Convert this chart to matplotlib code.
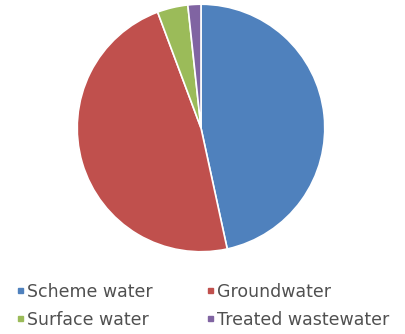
import matplotlib
matplotlib.use("Agg")
import matplotlib.pyplot as plt

categories = ["Scheme water", "Groundwater", "Surface water", "Treated wastewater"]
shares = [46.6, 47.7, 4.0, 1.7]
colors = ["#4F81BD", "#C0504D", "#9BBB59", "#8064A2"]

W, H = 406, 334
fig = plt.figure(figsize=(W / 100, H / 100), dpi=100)

# pie
ax = fig.add_axes([76 / W, (H - 253) / H, 250 / W, 250 / H])
ax.pie(shares, colors=colors, startangle=90, counterclock=False,
       wedgeprops=dict(edgecolor="white", linewidth=1.2))
ax.set_xlim(-1.01, 1.01)
ax.set_ylim(-1.01, 1.01)
ax.set_aspect("equal")

# legend laid out in pixel coordinates, two columns
lg = fig.add_axes([0, 0, 1, 1], facecolor="none")
lg.set_xlim(0, W)
lg.set_ylim(H, 0)
lg.axis("off")
col_x = [20, 210]
row_y = [290, 318]
for i, (name, c) in enumerate(zip(categories, colors)):
    col, row = i % 2, i // 2
    x, y = col_x[col], row_y[row]
    lg.plot([x], [y], marker="s", markersize=3.6, color=c, linestyle="none")
    lg.text(x + 7, y + 7, name, ha="left", va="baseline",
            fontsize=12.5, family="DejaVu Sans", color="#505050")

fig.savefig("out.png", dpi=100)
